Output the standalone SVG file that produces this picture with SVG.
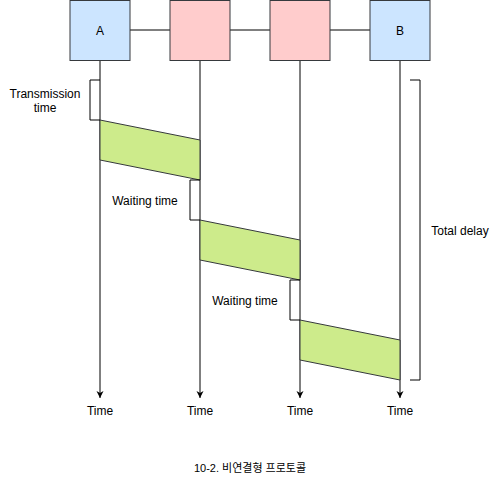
<svg xmlns="http://www.w3.org/2000/svg" width="501" height="482" viewBox="0 0 501 482">
<style>
text{font-family:"Liberation Sans",Arial,sans-serif;font-size:12px;fill:#000;text-anchor:middle}
.blue{fill:#cce5ff;stroke:#36393d;stroke-width:1}
.pink{fill:#ffcccc;stroke:#36393d;stroke-width:1}
.green{fill:#cdeb8b;stroke:#36393d;stroke-width:1}
.ln{fill:none;stroke:#000;stroke-width:1}
</style>
<defs>
<marker id="arr" markerWidth="8" markerHeight="8" refX="7" refY="4" orient="auto" markerUnits="userSpaceOnUse">
<path d="M0,0.5 L7,4 L0,7.5 L2,4 Z" fill="#000"/>
</marker>
</defs>
<g id="connectors">
<path class="ln" d="M130,30H170M230,30H270M330,30H370"/>
<path class="ln" d="M100,60V398" marker-end="url(#arr)"/>
<path class="ln" d="M200,60V398" marker-end="url(#arr)"/>
<path class="ln" d="M300,60V398" marker-end="url(#arr)"/>
<path class="ln" d="M400,60V398" marker-end="url(#arr)"/>
</g>
<g id="nodeA"><rect class="blue" x="70" y="0.5" width="60" height="60"/><text x="100" y="35">A</text></g>
<g id="node2"><rect class="pink" x="170" y="0.5" width="60" height="60"/></g>
<g id="node3"><rect class="pink" x="270" y="0.5" width="60" height="60"/></g>
<g id="nodeB"><rect class="blue" x="370" y="0.5" width="60" height="60"/><text x="400" y="35">B</text></g>
<g id="frames">
<path class="green" d="M100,120L200,140V180L100,160Z"/>
<path class="green" d="M200,220L300,240V280L200,260Z"/>
<path class="green" d="M300,320L400,340V380L300,360Z"/>
</g>
<g id="brackets">
<path class="ln" d="M100,80H90V120H100"/>
<path class="ln" d="M200,180H190V220H200"/>
<path class="ln" d="M300,280H290V320H300"/>
<path class="ln" d="M410,80H420V380H410"/>
</g>
<g id="labels">
<text x="45" y="98">Transmission</text>
<text x="45" y="112">time</text>
<text x="145" y="205">Waiting time</text>
<text x="245" y="305">Waiting time</text>
<text x="460" y="235">Total delay</text>
<text x="100" y="415">Time</text>
<text x="200" y="415">Time</text>
<text x="300" y="415">Time</text>
<text x="400" y="415">Time</text>
<text x="250" y="472" style="font-size:11px;font-family:'Liberation Sans','Noto Sans CJK KR',sans-serif">10-2. 비연결형 프로토콜</text>
</g>
</svg>
